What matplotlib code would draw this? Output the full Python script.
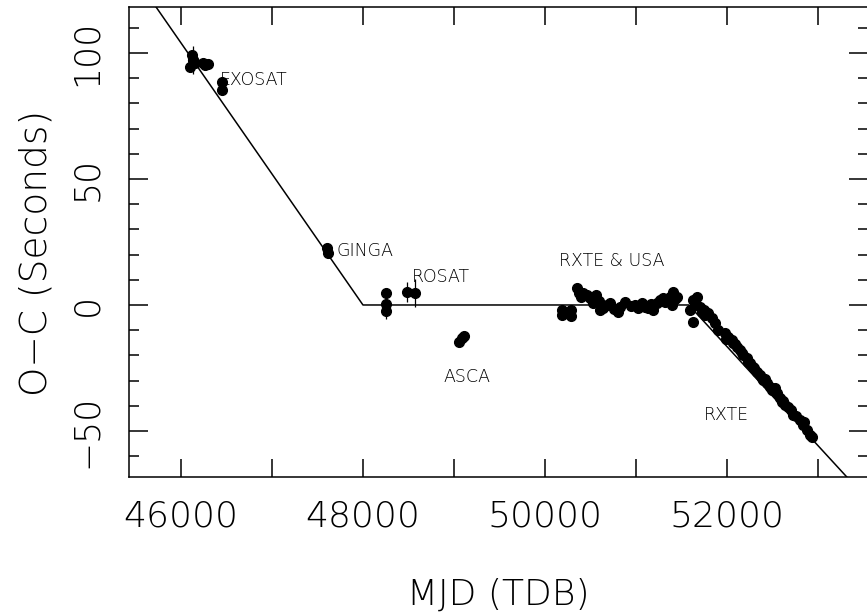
import numpy as np
import matplotlib
matplotlib.use("Agg")
import matplotlib.pyplot as plt
from matplotlib.ticker import MultipleLocator

plt.rcParams['font.family'] = ['DejaVu Sans']
plt.rcParams['font.weight'] = 200
plt.rcParams['axes.labelweight'] = 200

# timing residuals (MJD, O-C seconds)
exosat_mjd = [46099, 46121, 46132, 46154, 46242, 46264, 46297, 46451, 46451]
exosat_oc = [94.4, 99.2, 97.2, 96.0, 96.0, 95.2, 95.6, 88.5, 85.3]

ginga_mjd = [47610, 47615]
ginga_oc = [22.5, 20.5]

rosat_mjd = [48253, 48253, 48253, 48484, 48572]
rosat_oc = [4.8, 0.4, -2.4, 5.2, 4.8]
rosat_err = [2.0, 2.0, 3.0, 4.0, 5.5]

asca_mjd = [49055, 49088, 49110]
asca_oc = [-14.7, -13.1, -12.3]

rxte_mjd = [50187, 50187, 50286, 50286, 50352, 50374, 50418, 50462, 50495,
            50528, 50561, 50605, 50638, 50682, 50715, 50803, 50825, 50880,
            50990, 51023, 51067, 51100, 51133, 51187, 51231, 51264, 51297,
            51341, 51374, 51396, 51407, 51451, 51594, 51627, 51627, 51671,
            51704, 51726, 51759, 51792, 51836, 51869, 51902, 51978, 52011,
            52055, 52066, 52110, 52143, 52176, 52220, 52253, 52286, 52330,
            52363, 52396, 52440, 52473, 52506, 52550, 52605, 52638, 52671,
            52726, 52803, 52836, 52880, 52913, 52935,
            50400, 50590, 50760, 50940, 51160, 51320, 51430, 51650, 51745,
            51990, 52090, 52160, 52230, 52300, 52380, 52420, 52490, 52530,
            52580, 52620, 52700, 52760, 52850]
rxte_oc = [-2.0, -4.0, -2.0, -4.4, 6.7, 4.8, 4.8, 4.0, 2.8,
           0.8, 4.0, -2.0, -1.2, 0.0, 0.8, -2.8, -0.8, 1.2,
           0.0, -1.2, 0.8, -0.8, -1.2, -2.0, 0.8, 2.0, 2.8,
           2.0, 3.2, 0.0, 5.2, 3.2, -2.0, 2.0, -6.7, 3.2,
           -0.8, -2.8, -4.0, -3.2, -5.2, -7.1, -9.9, -11.1, -12.7,
           -13.9, -15.1, -16.7, -17.9, -19.8, -21.0, -23.0, -24.6, -26.6,
           -27.8, -29.8, -31.0, -32.5, -33.7, -34.9, -38.5, -39.7, -40.5,
           -43.7, -45.6, -47.6, -49.6, -51.6, -52.4,
           3.0, 1.5, -1.5, -0.5, 0.5, 1.0, 2.5, 0.5, -2.0,
           -13.5, -15.3, -19.0, -22.5, -25.2, -29.0, -29.4, -33.8, -33.0,
           -37.0, -38.0, -41.5, -44.2, -46.5]

# piecewise linear ephemeris model (break MJDs and slopes in s/day)
model_breaks = [45000, 48000, 51580, 54000]
model_slopes = [-0.052, 0.0, -0.0393]

labels = ["EXOSAT", "GINGA", "ROSAT", "ASCA", "RXTE & USA", "RXTE"]
label_x = [46429, 47714, 48538, 48890, 50154, 51747]
label_y = [87.3, 19.4, 9.1, -30.6, 15.5, -45.6]

model_y = [-model_slopes[0] * (model_breaks[1] - model_breaks[0]), 0.0, 0.0,
           model_slopes[2] * (model_breaks[3] - model_breaks[2])]

fig = plt.figure(figsize=(8.67, 6.13), dpi=100)
ax = fig.add_axes([0.1488, 0.2219, 0.8524, 0.7667])

ax.plot(model_breaks, model_y, color='black', lw=1.1, zorder=1)

msty = dict(fmt='o', color='black', ms=7, elinewidth=0.9, capsize=0, zorder=3)
ax.errorbar(exosat_mjd, exosat_oc, yerr=[1.5] * len(exosat_mjd), **msty)
ax.errorbar([46132], [97.2], yerr=[5.5], **msty)
ax.errorbar(ginga_mjd, ginga_oc, yerr=[1.0] * len(ginga_mjd), **msty)
ax.errorbar(rosat_mjd, rosat_oc, yerr=rosat_err, **msty)
ax.errorbar(asca_mjd, asca_oc, yerr=[1.0] * len(asca_mjd), **msty)
ax.errorbar(rxte_mjd, rxte_oc, yerr=[1.0] * len(rxte_mjd), **msty)

for txt, lx, ly in zip(labels, label_x, label_y):
    ax.text(lx, ly, txt, fontsize=12.5, ha='left', va='baseline')

ax.set_xlim(45429, 53550)
ax.set_ylim(-68.25, 118.25)

ax.xaxis.set_major_locator(MultipleLocator(2000))
ax.xaxis.set_minor_locator(MultipleLocator(1000))
ax.yaxis.set_major_locator(MultipleLocator(50))
ax.yaxis.set_minor_locator(MultipleLocator(10))

ax.tick_params(which='both', direction='in', top=True, right=True, width=1.1)
ax.tick_params(axis='x', which='both', length=13, pad=16, labelsize=26)
ax.tick_params(axis='y', which='major', length=14, pad=18, labelsize=25)
ax.tick_params(axis='y', which='minor', length=7)
for lab in ax.get_yticklabels():
    lab.set_rotation(90)
    lab.set_va('center')

for sp in ax.spines.values():
    sp.set_linewidth(1.1)

ax.set_xlabel("MJD (TDB)", fontsize=26, fontweight=200)
ax.xaxis.set_label_coords(0.5, -0.215)
ax.set_ylabel("O\u2212C (Seconds)", fontsize=27, fontweight=200, va='center')
ax.yaxis.set_label_coords(-0.126, 0.477)

fig.savefig("out.png", dpi=100)
